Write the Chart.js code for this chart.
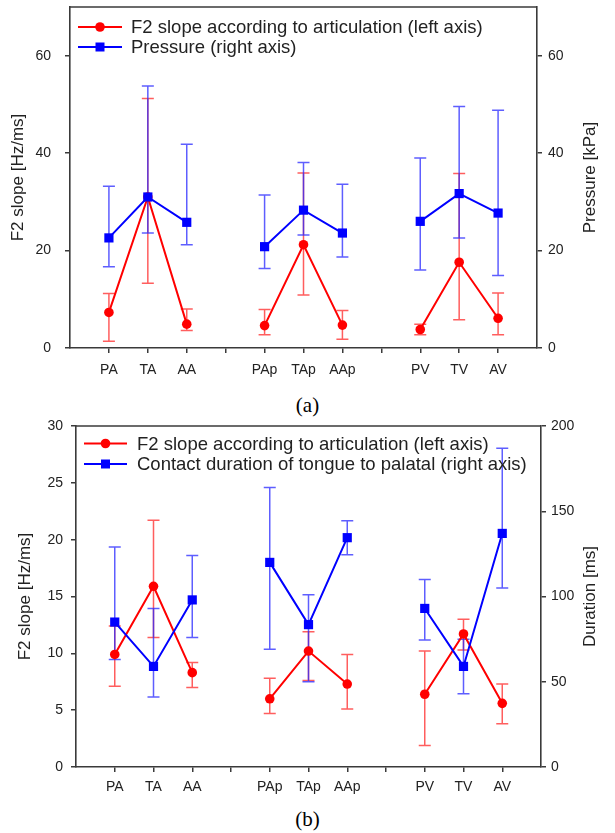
<!DOCTYPE html>
<html>
<head>
<meta charset="utf-8">
<script src="https://cdn.jsdelivr.net/npm/chart.js@4.4.1/dist/chart.umd.min.js"></script>
<style>
  body { margin: 0; background: #fff; width: 615px; height: 833px; position: relative; overflow: hidden; }
  canvas { position: absolute; left: 0; }
  #chart-a { top: 0; }
  #chart-b { top: 410px; }
  .caption { position: absolute; left: 0; width: 615px; text-align: center; line-height: 24px;
             font-family: "Liberation Serif", "Times New Roman", serif; font-size: 21px; color: #000; }
</style>
</head>
<body>
<canvas id="chart-a" width="615" height="380"></canvas>
<div class="caption" style="top:393px">(a)</div>
<canvas id="chart-b" width="615" height="390"></canvas>
<div class="caption" style="top:807px">(b)</div>
<script>
// Categories, grouped by place of articulation
const groups = [['PA', 'TA', 'AA'], ['PAp', 'TAp', 'AAp'], ['PV', 'TV', 'AV']];

// Panel (a): F2 slope [Hz/ms] and pressure [kPa], mean with error range
const slopeA     = [7.3, 31.0, 4.9, 4.6, 21.2, 4.7, 3.8, 17.6, 6.1];
const slopeAHigh = [11.2, 51.2, 8.0, 7.9, 35.9, 7.7, 4.9, 35.8, 11.3];
const slopeALow  = [1.4, 13.3, 3.6, 2.7, 10.9, 1.8, 2.7, 5.8, 2.7];
const pressure     = [22.6, 31.0, 25.8, 20.8, 28.3, 23.6, 26.0, 31.7, 27.7];
const pressureHigh = [33.2, 53.8, 41.8, 31.4, 38.1, 33.6, 39.0, 49.6, 48.8];
const pressureLow  = [16.7, 23.6, 21.2, 16.3, 23.2, 18.7, 16.0, 22.6, 14.9];

// Panel (b): F2 slope [Hz/ms] and contact duration [ms]
const slopeB     = [9.9, 15.9, 8.3, 6.0, 10.2, 7.3, 6.4, 11.7, 5.6];
const slopeBHigh = [12.4, 21.7, 9.2, 7.8, 11.9, 9.9, 10.2, 13.0, 7.3];
const slopeBLow  = [7.1, 11.4, 7.0, 4.7, 7.6, 5.1, 1.9, 10.3, 3.8];
const duration     = [85, 59, 98, 120, 83.5, 134.5, 93, 59, 137];
const durationHigh = [129, 93, 124, 164, 101, 144.5, 110, 75, 187];
const durationLow  = [63, 41, 76, 69, 50, 124.5, 74.5, 43, 105];

const FONT = '"Liberation Sans", Arial, sans-serif';
const AXIS = '#3a3a3a';
const TEXT = '#222';

// x position of each category: groups separated by one empty slot
const slotLabels = {};
groups.forEach((g, gi) => g.forEach((c, i) => { slotLabels[gi * 4 + i + 1] = c; }));

function toPoints(vals, lo, hi) {
  const pts = [];
  let k = 0;
  groups.forEach((g, gi) => {
    if (gi > 0) pts.push({ x: gi * 4, y: null }); // break the line between groups
    g.forEach((_, i) => {
      pts.push({ x: gi * 4 + i + 1, y: vals[k], lo: lo[k], hi: hi[k] });
      k++;
    });
  });
  return pts;
}

// Draw error bars with caps under the series
const errorBars = {
  id: 'errorBars',
  beforeDatasetsDraw(chart) {
    const ctx = chart.ctx;
    const xs = chart.scales.x;
    chart.data.datasets.forEach(ds => {
      const ys = chart.scales[ds.yAxisID];
      ctx.save();
      ctx.strokeStyle = ds.errorColor;
      ctx.lineWidth = 1.5;
      ds.data.forEach(p => {
        if (p.y == null) return;
        const px = xs.getPixelForValue(p.x);
        const top = ys.getPixelForValue(p.hi);
        const bot = ys.getPixelForValue(p.lo);
        ctx.beginPath();
        ctx.moveTo(px, top); ctx.lineTo(px, bot);
        ctx.moveTo(px - 6, top); ctx.lineTo(px + 6, top);
        ctx.moveTo(px - 6, bot); ctx.lineTo(px + 6, bot);
        ctx.stroke();
      });
      ctx.restore();
    });
  }
};

// Top frame line, legend in the plot and rotated axis titles
const decor = {
  id: 'decor',
  afterDraw(chart, args, opts) {
    const { ctx, chartArea: a } = chart;
    ctx.save();
    ctx.strokeStyle = AXIS;
    ctx.lineWidth = 1.6;
    ctx.beginPath();
    ctx.moveTo(a.left, a.top); ctx.lineTo(a.right, a.top);
    ctx.stroke();

    ctx.font = '18.5px ' + FONT;
    ctx.textBaseline = 'middle';
    ctx.textAlign = 'left';
    chart.data.datasets.forEach((ds, i) => {
      const y = opts.legendY + i * opts.legendGap;
      ctx.strokeStyle = ds.borderColor;
      ctx.lineWidth = 2;
      ctx.beginPath();
      ctx.moveTo(opts.legendX0, y); ctx.lineTo(opts.legendX1, y);
      ctx.stroke();
      const mx = (opts.legendX0 + opts.legendX1) / 2;
      ctx.fillStyle = ds.borderColor;
      ctx.beginPath();
      if (ds.pointStyle === 'rect') ctx.rect(mx - 4.5, y - 4.5, 9, 9);
      else ctx.arc(mx, y, 4.8, 0, Math.PI * 2);
      ctx.fill();
      ctx.fillStyle = TEXT;
      ctx.fillText(ds.label, opts.legendTextX, y + 1);
    });

    ctx.font = '17px ' + FONT;
    ctx.textAlign = 'center';
    const cy = (a.top + a.bottom) / 2;
    [[opts.leftTitleX, opts.leftTitle], [opts.rightTitleX, opts.rightTitle]].forEach(([x, t]) => {
      ctx.save();
      ctx.translate(x, cy);
      ctx.rotate(-Math.PI / 2);
      ctx.fillText(t, 0, 0);
      ctx.restore();
    });
    ctx.restore();
  }
};

function yScale(position, max, step, width, pad) {
  return {
    type: 'linear',
    position: position,
    min: 0,
    max: max,
    afterBuildTicks: s => { s.ticks = s.ticks.filter(t => t.value % step === 0); },
    afterFit: s => { s.width = width; s.paddingTop = 0; s.paddingBottom = 0; },
    ticks: { stepSize: step, padding: pad, color: TEXT, font: { family: FONT, size: 14 } },
    grid: { drawOnChartArea: false, drawTicks: true, tickLength: 5, color: AXIS, lineWidth: 1.5 },
    border: { color: AXIS, width: 1.6 }
  };
}

function makeChart(id, p) {
  return new Chart(document.getElementById(id), {
    type: 'line',
    data: {
      datasets: [
        {
          label: p.redLabel, data: p.red, yAxisID: 'y', order: 2,
          borderColor: '#ff0000', backgroundColor: '#ff0000', borderWidth: 2,
          pointStyle: 'circle', pointRadius: 4.8, pointBorderWidth: 0,
          errorColor: 'rgba(255,40,40,0.75)', spanGaps: false
        },
        {
          label: p.blueLabel, data: p.blue, yAxisID: 'y2', order: 1,
          borderColor: '#0000ff', backgroundColor: '#0000ff', borderWidth: 2,
          pointStyle: 'rect', pointRadius: 6.5, pointBorderWidth: 0,
          errorColor: 'rgba(40,40,255,0.75)', spanGaps: false
        }
      ]
    },
    options: {
      responsive: false,
      animation: false,
      events: [],
      layout: { padding: { top: p.top, left: 0, right: 0, bottom: 0 } },
      plugins: {
        legend: { display: false },
        tooltip: { enabled: false },
        decor: p.decor
      },
      scales: {
        x: {
          type: 'linear',
          min: 0,
          max: 12,
          afterBuildTicks: s => {
            s.ticks = Object.keys(slotLabels).concat(['4', '8']).map(Number)
              .sort((a, b) => a - b).map(v => ({ value: v }));
          },
          afterFit: s => { s.height = p.xHeight; s.paddingLeft = 0; s.paddingRight = 0; },
          ticks: {
            autoSkip: false, maxRotation: 0, padding: p.xPad, color: TEXT,
            font: { family: FONT, size: 14 },
            callback: v => slotLabels[v] || ''
          },
          grid: { drawOnChartArea: false, drawTicks: true, tickLength: 5, color: AXIS, lineWidth: 1.5 },
          border: { color: AXIS, width: 1.6 }
        },
        y: yScale('left', p.leftMax, p.leftStep, p.leftWidth, p.leftPad),
        y2: yScale('right', p.rightMax, p.rightStep, p.rightWidth, p.rightPad)
      }
    },
    plugins: [errorBars, decor]
  });
}

makeChart('chart-a', {
  redLabel: 'F2 slope according to articulation (left axis)',
  blueLabel: 'Pressure (right axis)',
  red: toPoints(slopeA, slopeALow, slopeAHigh),
  blue: toPoints(pressure, pressureLow, pressureHigh),
  top: 7, xHeight: 32, xPad: 9,
  leftMax: 70, leftStep: 20, leftWidth: 70, leftPad: 14,
  rightMax: 70, rightStep: 20, rightWidth: 78, rightPad: 6,
  decor: {
    legendY: 27, legendGap: 20, legendX0: 78, legendX1: 122, legendTextX: 131,
    leftTitle: 'F2 slope [Hz/ms]', leftTitleX: 18,
    rightTitle: 'Pressure [kPa]', rightTitleX: 590
  }
});

makeChart('chart-b', {
  redLabel: 'F2 slope according to articulation (left axis)',
  blueLabel: 'Contact duration of tongue to palatal (right axis)',
  red: toPoints(slopeB, slopeBLow, slopeBHigh),
  blue: toPoints(duration, durationLow, durationHigh),
  top: 16, xHeight: 33, xPad: 7,
  leftMax: 30, leftStep: 5, leftWidth: 76, leftPad: 8,
  rightMax: 200, rightStep: 50, rightWidth: 74, rightPad: 5,
  decor: {
    legendY: 33.5, legendGap: 20.5, legendX0: 84, legendX1: 127, legendTextX: 137,
    leftTitle: 'F2 slope [Hz/ms]', leftTitleX: 25,
    rightTitle: 'Duration [ms]', rightTitleX: 590
  }
});
</script>
</body>
</html>
